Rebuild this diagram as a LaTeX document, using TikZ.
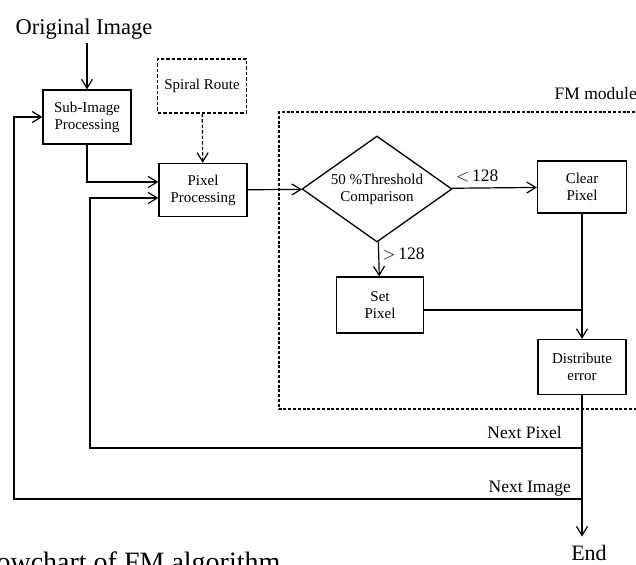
\documentclass[tikz,border=0pt]{standalone}
\usepackage{fontspec}
\setmainfont{Liberation Serif}
\usetikzlibrary{positioning,arrows.meta,calc,shapes.geometric}
\tikzset{
  >={Straight Barb[length=9pt,width=11pt]},
  pbox/.style={draw,line width=1.3pt,minimum width=88pt,minimum height=54pt,
    align=center,inner sep=2pt,font=\fontsize{15}{17}\selectfont},
  dpbox/.style={pbox,dash pattern=on 3.5pt off 2pt},
  decbox/.style={diamond,draw,line width=1.3pt,minimum width=150pt,
    minimum height=106pt,inner sep=0pt,aspect=1.4,align=center,
    font=\fontsize{15}{17}\selectfont},
  link/.style={->,line width=1.2pt},
  dlink/.style={link,dash pattern=on 3.5pt off 2pt},
  edgelbl/.style={font=\fontsize{17.5}{20}\selectfont,inner sep=0pt},
  fmframe/.style={line width=1.2pt,dash pattern=on 3pt off 1.8pt},
}
\begin{document}
\begin{tikzpicture}[x=1pt,y=-1pt]
  \useasboundingbox (0,0) rectangle (636,564);
  \clip (0,0) rectangle (636,564);
  % main boxes
  \node[font=\fontsize{22.5}{24}\selectfont,anchor=base,inner sep=3pt] (orig)
    at (84,35) {Original Image};
  \node[pbox] (sub) at (87,117) {Sub-Image\\Processing};
  \node[dpbox,minimum width=89pt] (spiral) at (202,86) {Spiral Route};
  \node[pbox,minimum height=53pt] (pix) at (203,190) {Pixel\\Processing};
  \node[decbox] (thr) at (377,189) {50 \%Threshold\\Comparison};
  \node[pbox,minimum width=89pt,minimum height=52pt] (clear) at (582,187)
    {Clear\\Pixel};
  \node[pbox,minimum width=87pt,minimum height=56pt] (set) at (380,305)
    {Set\\Pixel};
  \node[pbox,minimum height=55pt] (dist) at (582,367) {Distribute\\error};
  \node[font=\fontsize{22}{24}\selectfont,anchor=base,inner xsep=0pt,
    inner ysep=1pt] (fin) at (589,560) {End};
  % FM module frame
  \draw[fmframe] (640,112) -- (279,112) -- (279,409) -- (640,409);
  \node[edgelbl,anchor=base east] (fmlbl) at (637,100) {FM module};
  % flow
  \draw[link] (orig.south -| sub.north) -- (sub.north);
  \draw[dlink] (spiral) -- (pix);
  \draw[link] (sub.south) |- ([yshift=8pt]pix.west);
  \draw[link] (pix) -- (thr);
  \draw[link] (thr) -- node[edgelbl,above=5pt,pos=0.3] (lt) {$<$\,128} (clear);
  \draw[link] (thr) -- node[edgelbl,right=3pt,pos=0.35] (gt) {$>$\,128} (set);
  \draw[link] (clear) -- (dist);
  \draw[line width=1.2pt] ([yshift=-5pt]set.east) -- ([yshift=-5pt]set.east -| clear.south);
  \draw[link,shorten >=7pt] (dist.south) -- (dist.south |- fin.north);
  % loops back
  \coordinate (npR) at (582,448);
  \coordinate (npL) at (90,448);
  \coordinate (niR) at (582,499);
  \coordinate (niL) at (14,499);
  \draw[link] (npR) -- (npL) |- ([yshift=-8pt]pix.west);
  \draw[link] (niR) -- (niL) |- (sub.west);
  \node[edgelbl,anchor=base east] (nplbl) at (562,438) {Next Pixel};
  \node[edgelbl,anchor=base east] (nilbl) at (571,492) {Next Image};
  % caption, cut at the lower edge
  \node[font=\fontsize{28}{30}\selectfont,anchor=base west,inner sep=0pt] (cap)
    at (-27,571) {Flowchart of FM algorithm};
\end{tikzpicture}
\end{document}
